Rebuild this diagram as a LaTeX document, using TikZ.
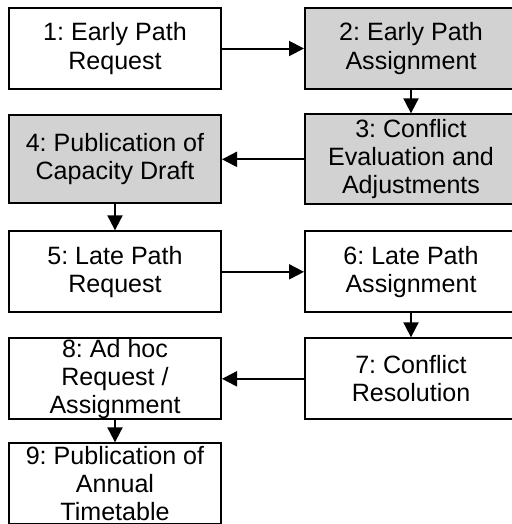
\documentclass[tikz,border=0pt]{standalone}
\usepackage{fontspec}
\setmainfont{Liberation Sans}
\frenchspacing
\usepackage{tikz}
\usetikzlibrary{positioning, arrows.meta}
\tikzstyle{stage} = [rectangle, minimum width=6.36cm, minimum height=2.43cm, inner sep=0.05cm, text centered, align=center, draw=black, line width=0.06cm, font=\fontsize{21.4}{24}\selectfont]
\tikzstyle{shaded} = [stage, fill=gray!35]
\tikzstyle{arrow} = [line width=0.06cm, -{Triangle[length=0.45cm, width=0.45cm]}]

\begin{document}
\begin{tikzpicture}
        \useasboundingbox (0,0) rectangle (15.36,-15.72);
        \node (earlyreq) [stage] at (3.45,-1.455) {1: Early Path\\Request};
        \node (earlyasg) [shaded, right=2.46cm of earlyreq] {2: Early Path\\Assignment};
        \node (conflicteval) [shaded, below=0.7cm of earlyasg, minimum height=2.7cm] {3: Conflict\\Evaluation and\\Adjustments};
        \node (draft) [shaded, left=2.46cm of conflicteval, minimum height=2.64cm] {4: Publication of\\Capacity Draft};
        \node (latereq) [stage, below=0.78cm of draft] {5: Late Path\\Request};
        \node (lateasg) [stage, right=2.46cm of latereq] {6: Late Path\\Assignment};
        \node (conflictres) [stage, below=0.72cm of lateasg] {7: Conflict\\Resolution};
        \node (adhoc) [stage, left=2.46cm of conflictres] {};
        \node (adhoctext) [align=center, inner sep=0pt, font=\fontsize{21.4}{24}\selectfont] at (adhoc) {8: Ad hoc\\Request /\\Assignment};
        \node (annual) [stage, below=0.66cm of adhoc] {9: Publication of\\Annual\\Timetable};

        \draw [arrow] (earlyreq) -- (earlyasg);
        \draw [arrow] (earlyasg) -- (conflicteval);
        \draw [arrow] (conflicteval) -- (draft);
        \draw [arrow] (draft) -- (latereq);
        \draw [arrow] (latereq) -- (lateasg);
        \draw [arrow] (lateasg) -- (conflictres);
        \draw [arrow] (conflictres) -- (adhoc);
        \draw [arrow] (adhoc) -- (annual);

        \end{tikzpicture}
\end{document}
